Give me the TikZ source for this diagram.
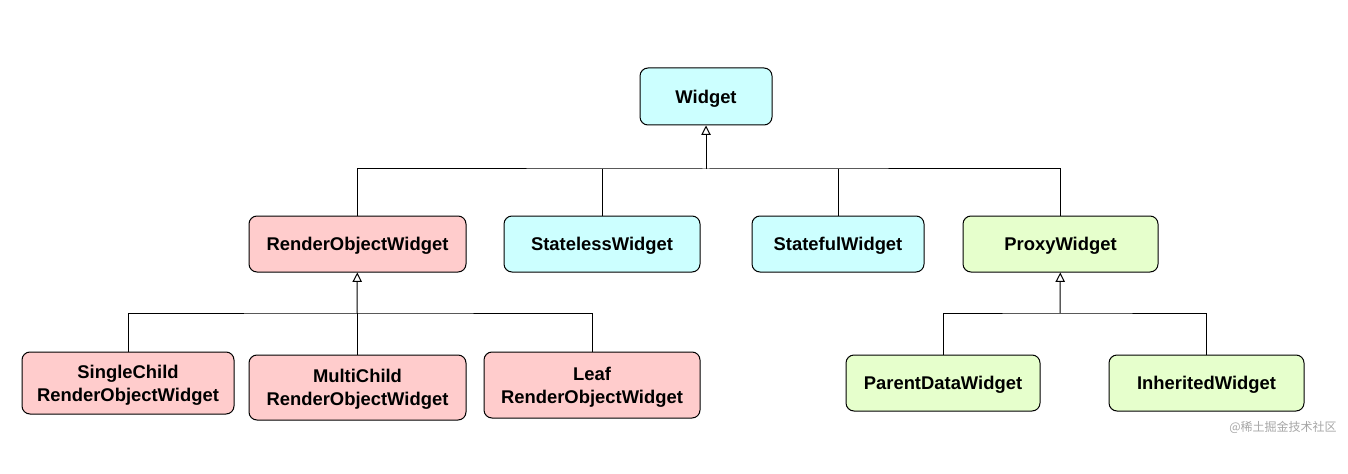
\documentclass[tikz,border=0pt]{standalone}
\usepackage{fontspec}
\setmainfont{Liberation Sans}
\newfontfamily\cjk{Noto Sans CJK SC}
\usepackage{xcolor}
\usetikzlibrary{arrows.meta,positioning}
\definecolor{cyanbox}{HTML}{CCFFFF}
\definecolor{pinkbox}{HTML}{FFCCCC}
\definecolor{greenbox}{HTML}{E6FFCC}

\begin{document}
\begin{tikzpicture}
	[   x=0.75pt,y=-0.75pt,
		cnode/.style={draw=black,fill=#1,rounded corners=6pt,align=center,line width=0.75pt,
			inner sep=0pt,text depth=0pt,font=\bfseries\fontsize{13.8}{17}\selectfont},
		size/.style 2 args={minimum width=#1,minimum height=#2},
		bus line/.style={draw,line width=0.75pt},
	]
	\tikzset{inherit arrow/.style={draw,line width=0.75pt,-{Triangle[open,width=7pt,length=7pt]}}}
	\useasboundingbox (0,0) rectangle (1348,474);
	
	\node[cnode=cyanbox,size={99pt}{42.75pt}] (widget) at (706,96.5) {Widget};
	
	\node[cnode=pinkbox,size={162.75pt}{42pt}] (rw) at (357.5,244) {RenderObjectWidget};
	\node[cnode=cyanbox,size={147pt}{42pt}] (sl) at (602,244) {StatelessWidget};
	\node[cnode=cyanbox,size={129pt}{42pt}] (sf) at (838,244) {StatefulWidget};
	\node[cnode=greenbox,size={146.25pt}{42pt}] (px) at (1060.5,244) {ProxyWidget};
	
	\node[cnode=pinkbox,size={159pt}{46.5pt}] (sc) at (128,383) {SingleChild\\RenderObjectWidget};
	\node[cnode=pinkbox,size={162.75pt}{48.75pt}] (mc) at (357.5,387.5) {MultiChild\\RenderObjectWidget};
	\node[cnode=pinkbox,size={162pt}{49.5pt}] (lf) at (592,385) {Leaf\\RenderObjectWidget};
	\node[cnode=greenbox,size={145.5pt}{42pt}] (pd) at (943,383) {ParentDataWidget};
	\node[cnode=greenbox,size={146.25pt}{42pt}] (iw) at (1206.5,383) {InheritedWidget};
	
	% inheritance buses
	\coordinate (bus-1) at (706,169);
	\coordinate (bus-2) at (357,313);
	\coordinate (bus-3) at (1060,313);
	\path[inherit arrow] (bus-1) -- (widget);
	\path[inherit arrow] (bus-2) -- (rw);
	\path[inherit arrow] (bus-3) -- (px);
	\path[bus line] (rw.north) |- (bus-1) -| (px.north);
	\path[bus line] (sc.north) |- (bus-2) -| (lf.north);
	\path[bus line] (pd.north) |- (bus-3) -| (iw.north);
	\foreach \n/\b in {sl/bus-1,sf/bus-1,mc/bus-2}
		\path[bus line] (\n.north) -- (\n.north |- \b);
	
	\node[text=black!35,font=\cjk\fontsize{9}{10}\selectfont] (mark) at (1283,427) {@稀土掘金技术社区};
\end{tikzpicture}
\end{document}
